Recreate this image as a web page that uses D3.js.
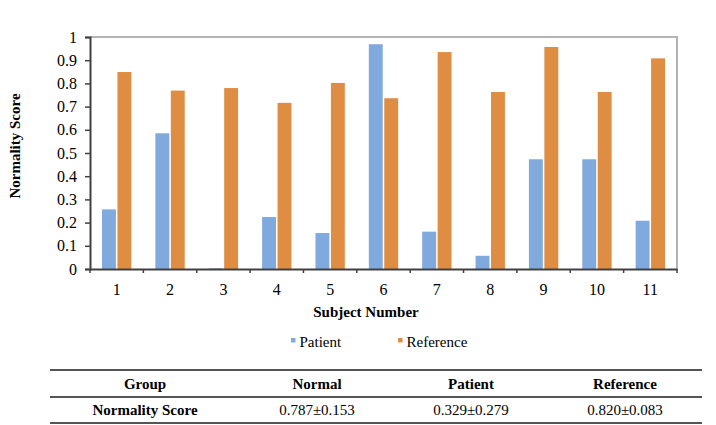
<!DOCTYPE html>
<html><head><meta charset="utf-8">
<script src="https://cdn.jsdelivr.net/npm/d3@7"></script>
<style>body{margin:0;background:#fff}svg text{font-family:"Liberation Serif","Tinos","Times New Roman","DejaVu Serif",serif !important}</style>
</head><body><svg id="c" width="716" height="425"></svg>
<script>
const subjects = ["1","2","3","4","5","6","7","8","9","10","11"];
const seriesNames = ["Patient","Reference"];
const patient = [0.257,0.585,0.003,0.224,0.155,0.969,0.161,0.057,0.473,0.473,0.208];
const reference = [0.849,0.769,0.780,0.716,0.802,0.736,0.935,0.763,0.957,0.763,0.908];
const yTicks = [0,0.1,0.2,0.3,0.4,0.5,0.6,0.7,0.8,0.9,1];
const tableHeader = ["Group","Normal","Patient","Reference"];
const tableRow = ["Normality Score","0.787±0.153","0.329±0.279","0.820±0.083"];
const colors = ["#80AADD","#DF8D43"];

const svg = d3.select("#c");
const L=90, R=677, T=37, B=269;
const x0 = d3.scaleBand().domain(subjects).range([L,R]).paddingInner(0.45).paddingOuter(0.225);
const x1 = d3.scaleBand().domain(seriesNames).range([0,x0.bandwidth()]).paddingInner(0.1);
const y = d3.scaleLinear().domain([0,1]).range([B,T]);
const xb = d3.scaleBand().domain(subjects).range([L,R]);

svg.append("path").attr("d",`M${L},${T}H${R}V${B}`).attr("fill","none").attr("stroke","#b3b3b3").attr("stroke-width",2);

const data = subjects.map((s,i)=>({s, vals:[patient[i],reference[i]]}));
const g = svg.append("g");
data.forEach(d=>{
  seriesNames.forEach((n,j)=>{
    g.append("rect").attr("x",x0(d.s)+x1(n)).attr("width",x1.bandwidth())
      .attr("y",y(d.vals[j])).attr("height",B-y(d.vals[j])).attr("fill",colors[j]);
  });
});

const ya = svg.append("g").attr("transform",`translate(${L},0)`)
  .call(d3.axisLeft(y).tickValues(yTicks).tickFormat(d=>d3.format("")(d)).tickSize(5).tickPadding(8));
ya.attr("font-family",null);
ya.select(".domain").attr("stroke","#404040").attr("stroke-width",2);
ya.selectAll(".tick line").attr("stroke","#404040").attr("stroke-width",1.5);
ya.selectAll("text").attr("font-size",16).attr("fill","#000");

const xa = svg.append("g").attr("transform",`translate(0,${B})`)
  .call(d3.axisBottom(xb).tickSize(0).tickPadding(15));
xa.attr("font-family",null);
xa.select(".domain").attr("stroke","#404040").attr("stroke-width",2);
xa.selectAll("text").attr("font-size",16).attr("fill","#000");
const bounds = subjects.map(s=>xb(s)).concat([R]);
svg.append("g").selectAll("line").data(bounds).join("line")
  .attr("x1",d=>d).attr("x2",d=>d).attr("y1",B).attr("y2",B+4)
  .attr("stroke","#404040").attr("stroke-width",1.5);

svg.append("text").attr("x",366).attr("y",317).attr("text-anchor","middle")
  .attr("font-size",15).attr("font-weight","bold").text("Subject Number");
svg.append("text").attr("transform","translate(20,146) rotate(-90)").attr("text-anchor","middle")
  .attr("font-size",15).attr("font-weight","bold").text("Normality Score");

const legX = [291,398];
seriesNames.forEach((n,j)=>{
  svg.append("rect").attr("x",legX[j]).attr("y",338).attr("width",4.5).attr("height",4.5).attr("fill",colors[j]);
  svg.append("text").attr("x",legX[j]+8.5).attr("y",347).attr("font-size",15).text(n);
});

const colX = [145,317,471,625];
const lineY = [370,397,423];
lineY.forEach(v=>svg.append("line").attr("x1",50).attr("x2",702).attr("y1",v).attr("y2",v)
  .attr("stroke","#555").attr("stroke-width",2));
tableHeader.forEach((t,i)=>svg.append("text").attr("x",colX[i]).attr("y",389).attr("text-anchor","middle")
  .attr("font-size",15).attr("font-weight","bold").text(t));
tableRow.forEach((t,i)=>svg.append("text").attr("x",colX[i]).attr("y",415).attr("text-anchor","middle")
  .attr("font-size",15).attr("font-weight",i===0?"bold":"normal").text(t));
</script></body></html>
